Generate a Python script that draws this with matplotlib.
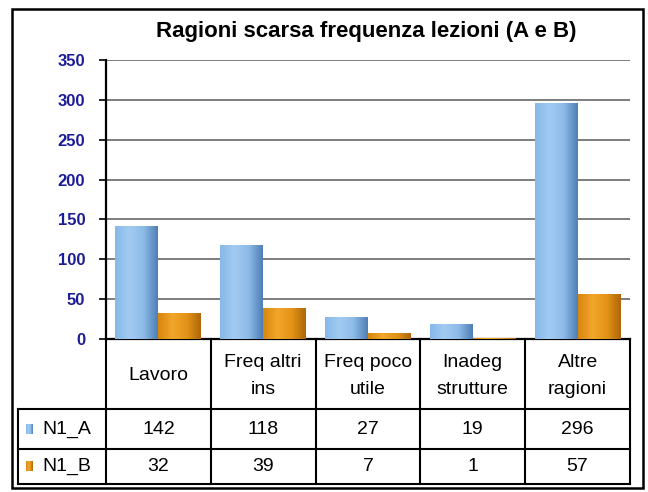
import numpy as np
import matplotlib.pyplot as plt
from matplotlib.colors import LinearSegmentedColormap
from matplotlib.patches import Rectangle

categories = ['Lavoro', 'Freq altri\nins', 'Freq poco\nutile', 'Inadeg\nstrutture', 'Altre\nragioni']
series_names = ['N1_A', 'N1_B']
n1_a = [142, 118, 27, 19, 296]
n1_b = [32, 39, 7, 1, 57]
y_ticks = [0, 50, 100, 150, 200, 250, 300, 350]
title = 'Ragioni scarsa frequenza lezioni (A e B)'

plt.rcParams['font.family'] = ['Liberation Sans', 'DejaVu Sans']

W, H = 648.0, 492.0


def box(x0, y0, x1, y1):
    # pixel box (top-left origin) -> figure fraction
    return [x0 / W, 1 - y1 / H, (x1 - x0) / W, (y1 - y0) / H]


blue_cmap = LinearSegmentedColormap.from_list('b', ['#86b8e8', '#a2cbf2', '#8dbbe8', '#4f7fb6'])
orange_cmap = LinearSegmentedColormap.from_list('o', ['#d8860e', '#f2a62a', '#e39418', '#b06808'])

fig = plt.figure(figsize=(6.48, 4.92), dpi=100)

ax_l, ax_r, ax_t, ax_b = 106, 630, 60, 339
ax = fig.add_axes(box(ax_l, ax_t, ax_r, ax_b))
x = np.arange(len(categories))
w = 0.41
grad = np.linspace(0, 1, 64).reshape(1, -1)
for vals, off, cmap, base in [(n1_a, -w / 2, blue_cmap, '#8dbbe8'), (n1_b, w / 2, orange_cmap, '#e39418')]:
    bars = ax.bar(x + off, vals, w, color=base, zorder=3, linewidth=0)
    for b in bars:
        im = ax.imshow(grad, cmap=cmap, aspect='auto', zorder=3.5,
                       extent=[b.get_x(), b.get_x() + b.get_width(), 0, b.get_height()])
        im.set_clip_path(b)

ax.set_xlim(-0.5, len(categories) - 0.5)
ax.set_ylim(0, 350)
ax.set_yticks(y_ticks)
ax.set_yticklabels([str(v) for v in y_ticks], color='#1c1c96', fontweight='bold', fontsize=12)
ax.set_xticks([])
ax.tick_params(axis='y', length=5, width=1.2, color='black', pad=10)
ax.yaxis.grid(True, color='#5a5a5a', linewidth=1.1)
ax.set_axisbelow(True)
for s in ['top', 'right']:
    ax.spines[s].set_visible(False)
ax.spines['left'].set_linewidth(1.6)
ax.spines['bottom'].set_linewidth(1.6)

# data table below the plot
tab_l, tab_b = 18, 484
row_cat, row_a = 409, 449
tax = fig.add_axes(box(tab_l, ax_b, ax_r, tab_b))
colw = (ax_r - ax_l) / len(categories)
x_left = -0.5 - (ax_l - tab_l) / colw
x_right = len(categories) - 0.5
tax.axis('off')
lw = 1.5
for i in range(len(categories) + 1):
    tax.plot([i - 0.5, i - 0.5], [ax_b, tab_b], color='black', lw=lw, clip_on=False)
tax.plot([x_left, x_left], [row_cat, tab_b], color='black', lw=lw, clip_on=False)
for yy in [row_cat, row_a, tab_b]:
    tax.plot([x_left, x_right], [yy, yy], color='black', lw=lw, clip_on=False)

fs = 14
for i, c in enumerate(categories):
    tax.text(i, (ax_b + row_cat) / 2 + 2, c, ha='center', va='center', fontsize=fs, linespacing=1.75)
rows = [(n1_a, row_cat, row_a, blue_cmap), (n1_b, row_a, tab_b, orange_cmap)]
for name, (vals, y0, y1, cmap) in zip(series_names, rows):
    ym = (y0 + y1) / 2
    for i, v in enumerate(vals):
        tax.text(i, ym, str(v), ha='center', va='center', fontsize=fs)
    tax.text(x_left + 24 / colw, ym, name, ha='left', va='center', fontsize=fs)
    tax.imshow(grad, cmap=cmap, aspect='auto', zorder=3,
               extent=[x_left + 8 / colw, x_left + 15 / colw, ym + 5, ym - 5])
tax.set_xlim(x_left, x_right)
tax.set_ylim(tab_b, ax_b)

fig.text(366 / W, 1 - 31 / H, title, ha='center', va='center', fontsize=16, fontweight='bold')
fig.patches.append(Rectangle((12 / W, 1 - 488 / H), 631 / W, 479 / H, transform=fig.transFigure,
                             fill=False, edgecolor='black', linewidth=1.8))

fig.savefig('out.png', dpi=100)
